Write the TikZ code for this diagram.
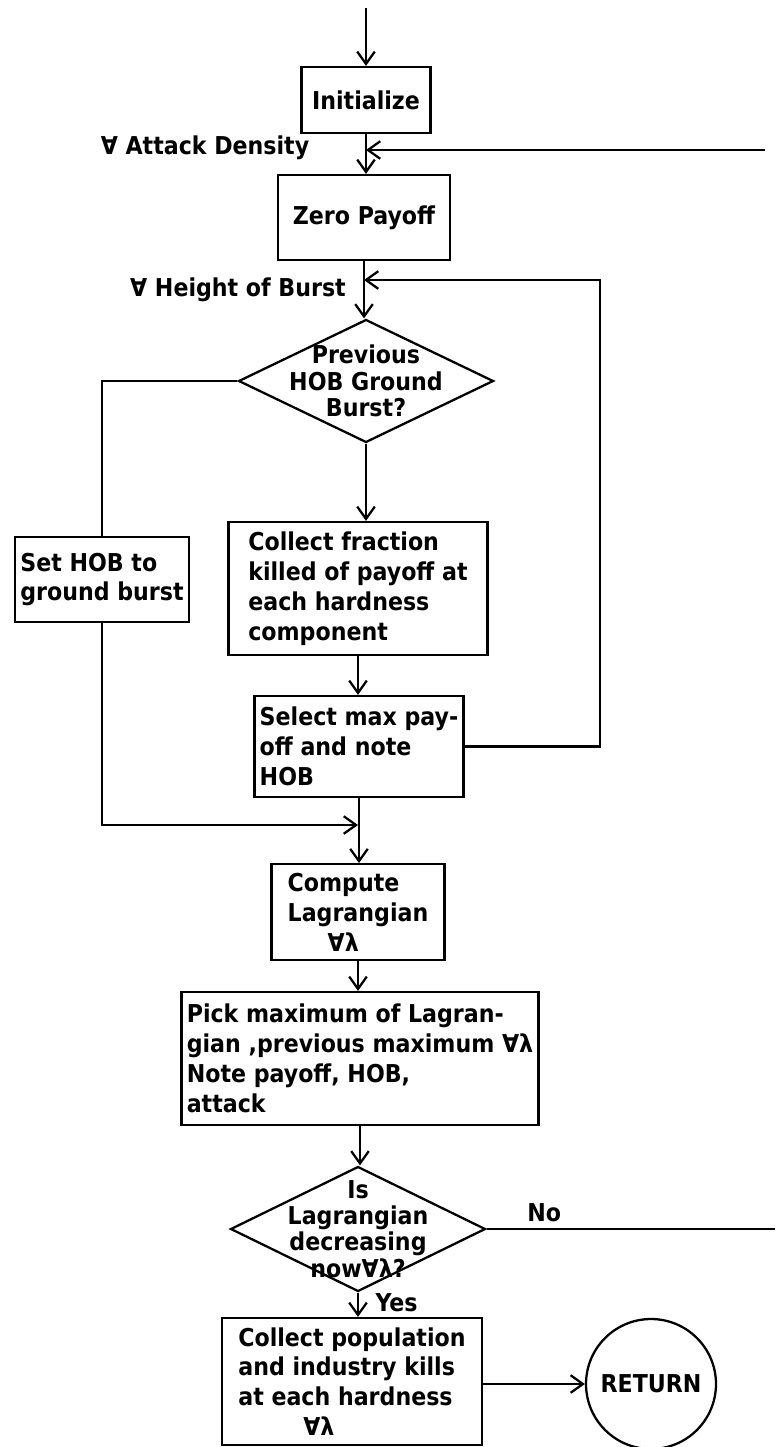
\documentclass[tikz,border=0pt]{standalone}
\usepackage{fontspec}
\setmainfont{DejaVu Sans Condensed}
\usetikzlibrary{shapes.geometric,arrows.meta}

\tikzset{
  block/.style={draw, line width=1.3pt, align=left, inner xsep=3pt, inner ysep=5pt,
    font=\fontsize{14}{17}\selectfont\bfseries},
  decision/.style={draw, diamond, line width=1.3pt, inner sep=0pt},
  note/.style={font=\fontsize{14}{15}\selectfont\bfseries, align=center},
  flow/.style={line width=1.3pt, -{Straight Barb[length=7pt,width=10pt]}},
}

\begin{document}
\begin{tikzpicture}[x=0.02cm, y=-0.02cm]
  \useasboundingbox (0,0) rectangle (775,1447);

  % boxes of the search loop
  \node[block, align=center, minimum width=2.58cm, minimum height=1.32cm] (init) at (366,100) {Initialize};
  \node[block, align=center, minimum width=3.44cm, minimum height=1.7cm] (zero) at (364,217.5) {Zero Payoff};
  \node[decision, minimum width=5.1cm, minimum height=2.46cm,
        label={[note]center:Previous\\HOB Ground\\Burst?}] (prev) at (366,381) {};
  \node[block, minimum width=3.46cm, minimum height=1.7cm] (sethob) at (102,579.5) {Set HOB to\\ground burst};
  \node[block, minimum width=5.18cm, minimum height=2.66cm] (frac) at (358,588.5)
    {Collect fraction\\killed of payoff at\\each hardness\\component};
  \node[block, minimum width=4.14cm, minimum height=2.02cm] (select) at (359,746.5)
    {Select max pay-\\off and note\\HOB};
  \node[block, minimum width=3.46cm, minimum height=1.72cm] (comp) at (358,912)
    {Compute\\Lagrangian\\\hspace*{0.8cm}∀λ};
  \node[block, minimum width=7.0cm, minimum height=2.66cm] (pick) at (360,1058.5)
    {Pick maximum of Lagran-\\gian ,previous maximum ∀λ\\Note payoff, HOB,\\attack};
  \node[decision, minimum width=5.1cm, minimum height=2.5cm,
        label={[note]center:Is\\Lagrangian\\decreasing\\now∀λ?}] (decr) at (358,1229) {};
  \node[block, minimum width=5.2cm, minimum height=2.54cm] (popk) at (352,1381.5)
    {Collect population\\and industry kills\\at each hardness\\\hspace*{1.3cm}∀λ};
  \node[draw, circle, line width=1.3pt, minimum size=2.6cm, inner sep=0pt,
        font=\fontsize{14}{17}\selectfont\bfseries] (ret) at (651,1384) {RETURN};

  % loop labels
  \node[note] (lbldens) at (205,148) {∀ Attack Density};
  \node[note] (lblhob) at (238,290) {∀ Height of Burst};

  % loop ends
  \coordinate (start) at (366,8);
  \coordinate (densin) at (765,150);
  \coordinate (hobin) at (600,280);
  \coordinate (join) at (358,825);
  \coordinate (noexit) at (775,1232);

  \draw[flow] (start) -- (init.north);
  \draw[flow] (init.south) -- (init.south |- zero.north);
  \draw[flow] (densin) -- (init.south |- densin);
  \draw[flow] (zero.south) -- (zero.south |- prev.north);
  \draw[flow] (select.east) -| (hobin) -- (zero.south |- hobin);
  \draw[line width=1.3pt] (prev.west) -| (sethob.north);
  \draw[flow] (prev.south) -- (prev.south |- frac.north);
  \draw[flow] (frac.south) -- (frac.south |- select.north);
  \draw[flow] (sethob.south) |- (join);
  \draw[flow] (select.south) -- (select.south |- comp.north);
  \draw[flow] (comp.south) -- (comp.south |- pick.north);
  \draw[flow] (pick.south) -- (pick.south |- decr.north);
  \draw[line width=1.3pt] (decr.east) -- node[note, above, pos=0.2] {No} (decr.east -| noexit);
  \draw[flow] (decr.south) -- node[note, right, pos=0.4, xshift=6pt] {Yes} (decr.south |- popk.north);
  \draw[flow] (popk.east |- ret.west) -- (ret.west);
\end{tikzpicture}
\end{document}
